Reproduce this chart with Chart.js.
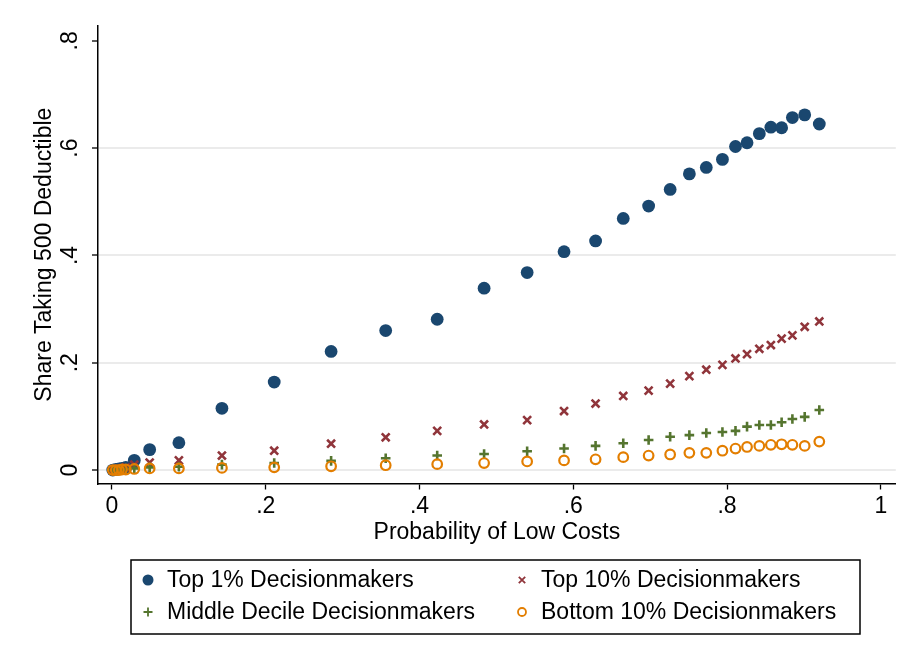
<!DOCTYPE html>
<html>
<head>
<meta charset="utf-8">
<script src="https://cdn.jsdelivr.net/npm/chart.js@4/dist/chart.umd.min.js"></script>
<style>
  html, body { margin: 0; padding: 0; background: #ffffff; }
  canvas { display: block; }
</style>
</head>
<body>
<canvas id="c" width="904" height="664"></canvas>
<script>
// ---- data ----
const probLow = [0.001, 0.005, 0.009, 0.013, 0.018, 0.029, 0.049, 0.087, 0.143, 0.211, 0.285, 0.356, 0.423, 0.484, 0.540, 0.588, 0.629, 0.665, 0.698, 0.726, 0.751, 0.773, 0.794, 0.811, 0.826, 0.842, 0.857, 0.871, 0.885, 0.901, 0.920];
const top1 = [0.000, 0.001, 0.002, 0.003, 0.005, 0.018, 0.038, 0.051, 0.115, 0.164, 0.221, 0.260, 0.281, 0.339, 0.368, 0.407, 0.427, 0.469, 0.492, 0.523, 0.552, 0.564, 0.579, 0.603, 0.610, 0.627, 0.639, 0.638, 0.657, 0.662, 0.645];
const top10 = [0.000, 0.001, 0.002, 0.003, 0.005, 0.010, 0.014, 0.018, 0.027, 0.036, 0.049, 0.061, 0.073, 0.085, 0.093, 0.110, 0.124, 0.138, 0.148, 0.161, 0.175, 0.187, 0.196, 0.208, 0.216, 0.226, 0.233, 0.245, 0.251, 0.267, 0.277];
const middle = [0.000, 0.000, 0.001, 0.001, 0.002, 0.003, 0.005, 0.006, 0.010, 0.013, 0.017, 0.022, 0.027, 0.030, 0.035, 0.040, 0.045, 0.050, 0.056, 0.062, 0.065, 0.069, 0.071, 0.073, 0.081, 0.084, 0.084, 0.089, 0.095, 0.099, 0.112];
const bottom10 = [0.000, 0.000, 0.000, 0.001, 0.001, 0.002, 0.003, 0.003, 0.004, 0.005, 0.007, 0.009, 0.011, 0.013, 0.016, 0.018, 0.020, 0.024, 0.027, 0.029, 0.032, 0.032, 0.036, 0.040, 0.043, 0.045, 0.047, 0.048, 0.047, 0.045, 0.053];

const seriesNames = ['Top 1% Decisionmakers', 'Top 10% Decisionmakers', 'Middle Decile Decisionmakers', 'Bottom 10% Decisionmakers'];

const xTickValues = [0, 0.2, 0.4, 0.6, 0.8, 1];
const xTickLabels = ['0', '.2', '.4', '.6', '.8', '1'];
const yTickValues = [0, 0.2, 0.4, 0.6, 0.8];
const yTickLabels = ['0', '.2', '.4', '.6', '.8'];

const xTitle = 'Probability of Low Costs';
const yTitle = 'Share Taking 500 Deductible';

// ---- styling ----
const FONT = "'Liberation Sans', Arial, Helvetica, sans-serif";
const fontMain = { family: FONT, size: 23 };
const NAVY = '#1a476f', MAROON = '#90353b', GREEN = '#55752f', ORANGE = '#e37e00';

function pts(ys) { return probLow.map((x, i) => ({ x: x, y: ys[i] })); }

const datasets = [
  { label: seriesNames[0], data: pts(top1), order: 4, pointStyle: 'circle', pointRadius: 6.4,
    backgroundColor: NAVY, borderColor: NAVY, pointBorderWidth: 0, showLine: false },
  { label: seriesNames[1], data: pts(top10), order: 3, pointStyle: 'crossRot', pointRadius: 5.6,
    backgroundColor: MAROON, borderColor: MAROON, pointBorderWidth: 2.6, showLine: false },
  { label: seriesNames[2], data: pts(middle), order: 2, pointStyle: 'cross', pointRadius: 4.8,
    backgroundColor: GREEN, borderColor: GREEN, pointBorderWidth: 2.6, showLine: false },
  { label: seriesNames[3], data: pts(bottom10), order: 1, pointStyle: 'circle', pointRadius: 4.8,
    backgroundColor: 'rgba(0,0,0,0)', borderColor: ORANGE, pointBorderWidth: 2.2, showLine: false }
];

// custom 2x2 legend in a box
const legendBox = {
  id: 'legendBox',
  afterDraw(chart) {
    const ctx = chart.ctx;
    ctx.save();
    ctx.strokeStyle = '#000';
    ctx.lineWidth = 1.5;
    ctx.strokeRect(131, 560, 729, 74);
    ctx.font = '23px ' + FONT;
    ctx.fillStyle = '#000';
    ctx.textBaseline = 'middle';
    ctx.textAlign = 'left';
    const cells = [
      { mx: 148, tx: 167, y: 580, i: 0 },
      { mx: 522, tx: 541, y: 580, i: 1 },
      { mx: 148, tx: 167, y: 612, i: 2 },
      { mx: 522, tx: 541, y: 612, i: 3 }
    ];
    cells.forEach(c => {
      ctx.fillText(seriesNames[c.i], c.tx, c.y + 1);
      const x = c.mx, y = c.y;
      ctx.beginPath();
      if (c.i === 0) {
        ctx.fillStyle = NAVY;
        ctx.arc(x, y, 5.5, 0, Math.PI * 2);
        ctx.fill();
      } else if (c.i === 1) {
        ctx.strokeStyle = MAROON; ctx.lineWidth = 1.8;
        const d = 3.2;
        ctx.moveTo(x - d, y - d); ctx.lineTo(x + d, y + d);
        ctx.moveTo(x + d, y - d); ctx.lineTo(x - d, y + d);
        ctx.stroke();
      } else if (c.i === 2) {
        ctx.strokeStyle = GREEN; ctx.lineWidth = 1.8;
        const d = 4.5;
        ctx.moveTo(x - d, y); ctx.lineTo(x + d, y);
        ctx.moveTo(x, y - d); ctx.lineTo(x, y + d);
        ctx.stroke();
      } else {
        ctx.strokeStyle = ORANGE; ctx.lineWidth = 1.8;
        ctx.arc(x, y, 4, 0, Math.PI * 2);
        ctx.stroke();
      }
      ctx.fillStyle = '#000';
    });
    ctx.restore();
  }
};

const bgPlugin = {
  id: 'bg',
  beforeDraw(chart) {
    const ctx = chart.ctx;
    ctx.save();
    ctx.fillStyle = '#ffffff';
    ctx.fillRect(0, 0, chart.width, chart.height);
    ctx.restore();
  }
};

new Chart(document.getElementById('c'), {
  type: 'scatter',
  data: { datasets: datasets },
  plugins: [bgPlugin, legendBox],
  options: {
    responsive: false,
    animation: false,
    events: [],
    devicePixelRatio: 1,
    layout: { padding: { left: 0, right: 8, top: 25, bottom: 0 } },
    plugins: { legend: { display: false }, tooltip: { enabled: false } },
    scales: {
      x: {
        type: 'linear',
        min: -0.0182, max: 1.0195,
        afterFit: s => { s.height = 180.5; },
        afterBuildTicks: s => { s.ticks = xTickValues.map(v => ({ value: v })); },
        ticks: {
          callback: v => xTickLabels[xTickValues.indexOf(v)],
          font: fontMain, color: '#000', padding: 3, maxRotation: 0, minRotation: 0, autoSkip: false
        },
        grid: { drawOnChartArea: false, drawTicks: true, tickLength: 6, tickColor: '#000', tickWidth: 1.3 },
        border: { color: '#000', width: 1.5 },
        title: { display: true, text: xTitle, font: fontMain, color: '#000', padding: { top: 0, bottom: 118 } }
      },
      y: {
        type: 'linear',
        min: -0.0251, max: 0.828,
        afterFit: s => { s.width = 98; },
        afterBuildTicks: s => { s.ticks = yTickValues.map(v => ({ value: v })); },
        ticks: {
          callback: v => yTickLabels[yTickValues.indexOf(v)],
          font: fontMain, color: '#000', padding: 12, crossAlign: 'center',
          minRotation: 90, maxRotation: 90, autoSkip: false
        },
        grid: {
          color: ctx => (ctx.tick && ctx.tick.value === 0.8) ? 'rgba(0,0,0,0)' : '#ebebeb',
          lineWidth: 2, drawTicks: true, tickLength: 6, tickColor: '#000', tickWidth: 1.3
        },
        border: { color: '#000', width: 1.5 },
        title: { display: true, text: yTitle, font: fontMain, color: '#000', padding: { top: 31, bottom: 0 } }
      }
    }
  }
});
</script>
</body>
</html>
